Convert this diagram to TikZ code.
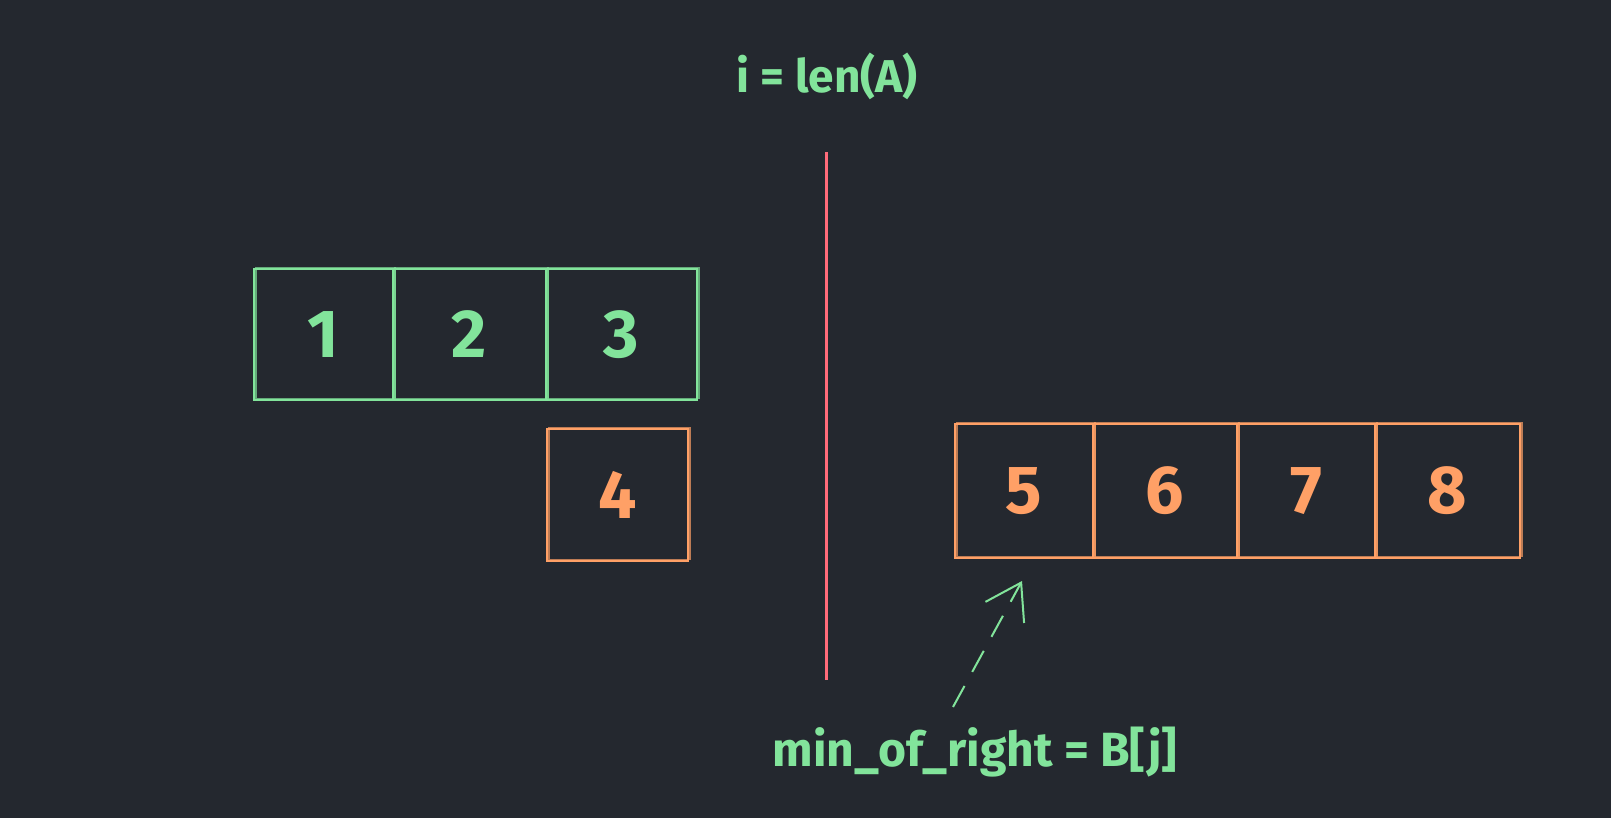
\documentclass[tikz,border=0pt]{standalone}
\usepackage{fontspec}
\setmainfont{Fira Sans}
\usetikzlibrary{arrows.meta,calc}
\definecolor{bg}{HTML}{24282F}
\definecolor{grn}{HTML}{82E49B}
\definecolor{org}{HTML}{FFA066}
\definecolor{redl}{HTML}{FF6B7A}
\tikzset{
  cellbox/.style={draw, line width=2pt, inner sep=0pt, minimum height=131pt,
    font=\fontsize{68}{74}\selectfont\bfseries,
    preaction={draw, line width=1.2pt, opacity=0.7, transform canvas={xshift=2pt,yshift=1.5pt}}},
  gcell/.style={cellbox, draw=grn, text=grn},
  ocell/.style={cellbox, draw=org, text=org},
  lbl/.style={text=grn, font=\bfseries, inner sep=0pt},
}
\begin{document}
\begin{tikzpicture}[x=1pt,y=-1pt]
\fill[bg] (0,0) rectangle (1611,818);
\useasboundingbox (0,0) rectangle (1611,818);
% green row
\node[gcell, minimum width=139pt] (c1) at (323.5,334.5) {1};
\node[gcell, minimum width=153pt] (c2) at (469.5,334.5) {2};
\node[gcell, minimum width=151pt] (c3) at (621.5,334.5) {3};
% orange 4
\node[ocell, minimum width=141pt, minimum height=132pt] (c4) at (617.5,495) {4};
% orange row
\node[ocell, minimum width=138pt, minimum height=134pt] (c5) at (1024,491) {5};
\node[ocell, minimum width=144pt, minimum height=134pt] (c6) at (1165,491) {6};
\node[ocell, minimum width=138pt, minimum height=134pt] (c7) at (1306,491) {7};
\node[ocell, minimum width=145pt, minimum height=134pt] (c8) at (1447.5,491) {8};
% red divider
\coordinate (rt) at (826,152);
\coordinate (rb) at (826,680);
\draw[redl, line width=3pt] (rt) -- (rb);
% labels
\node[lbl, font=\fontsize{46}{52}\selectfont\bfseries] (ilen) at (827,76) {i = len(A)};
\node[lbl, font=\fontsize{48}{54}\selectfont\bfseries] (minr) at (975,752) {min\_of\_right = B[j]};
% arrow
\coordinate (as) at (953,707);
\coordinate (ae) at ($(c5.south)+(-2,22)$);
\draw[grn, line width=2pt, dash pattern=on 24pt off 16pt,
  -{Straight Barb[length=34pt, width=44pt, line width=2pt]}] (as) -- (ae);
\end{tikzpicture}
\end{document}
